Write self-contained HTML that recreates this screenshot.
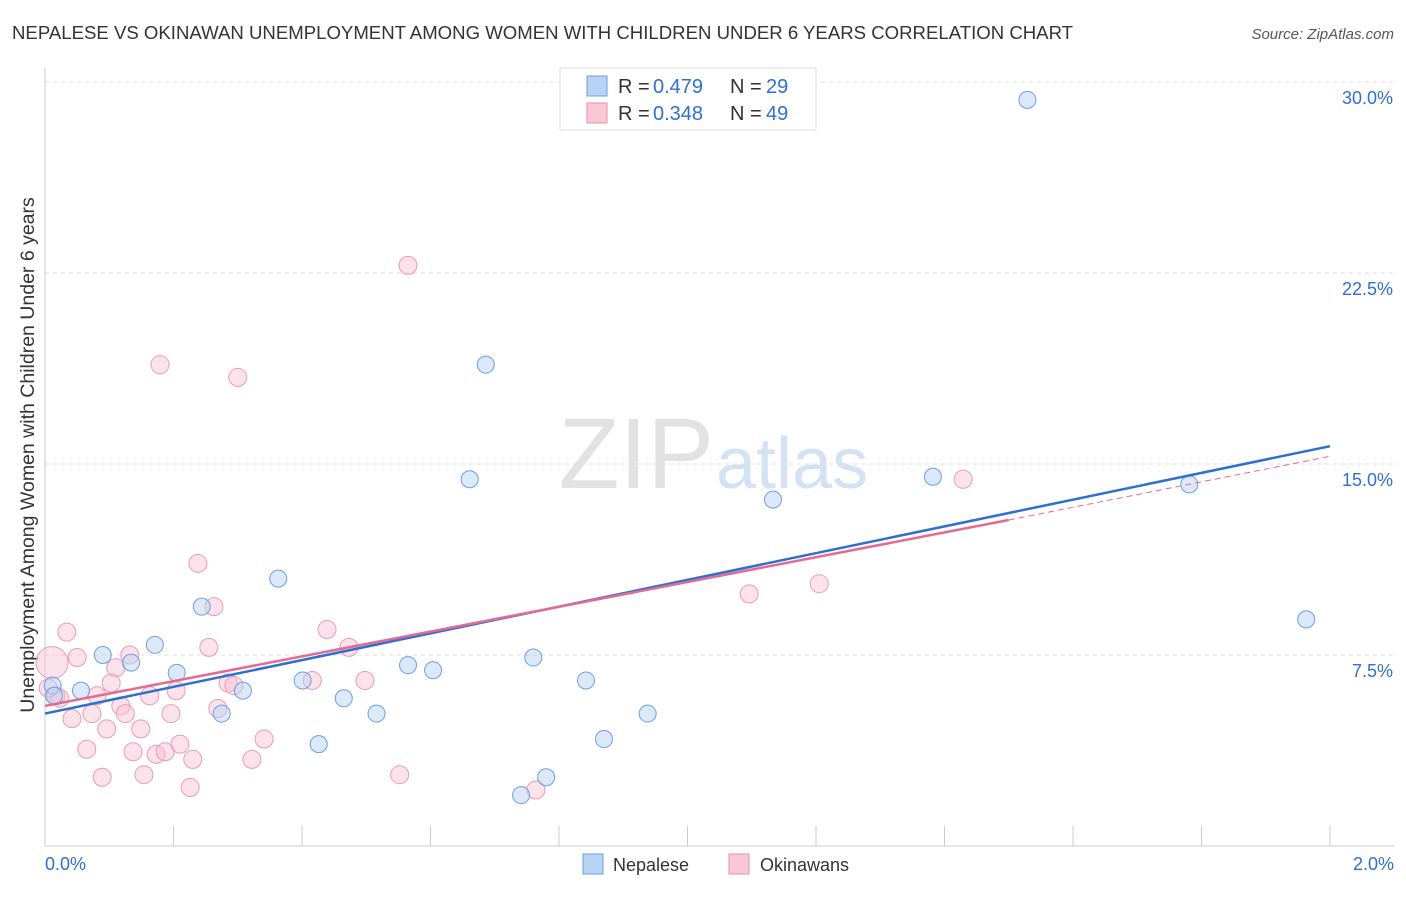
<!DOCTYPE html>
<html><head><meta charset="utf-8">
<style>
body{margin:0;background:#fff;font-family:"Liberation Sans",sans-serif;}
svg text{font-family:"Liberation Sans",sans-serif;}
</style></head>
<body>
<svg id="chart" width="1406" height="892">
<text x="12" y="39" font-size="18.6" fill="#333">NEPALESE VS OKINAWAN UNEMPLOYMENT AMONG WOMEN WITH CHILDREN UNDER 6 YEARS CORRELATION CHART</text>
<text x="1394" y="39" font-size="15" fill="#555" font-style="italic" text-anchor="end">Source: ZipAtlas.com</text>
<text x="714" y="488" font-size="100" fill="#e2e2e2" text-anchor="end" font-family="Liberation Serif">ZIP</text>
<text x="716" y="488" font-size="72" fill="#d3e3f4">atlas</text>
<text transform="translate(34,455) rotate(-90)" font-size="19.5" fill="#333" text-anchor="middle">Unemployment Among Women with Children Under 6 years</text>
<g id="grid"></g><g id="axes"></g><g id="marks"></g>
<g>
<rect x="560" y="68" width="256" height="62" fill="#fff" stroke="#ddd"/>
<rect x="587" y="76" width="20" height="20" fill="#b9d3f5" stroke="#6d9fe0"/>
<rect x="587" y="103" width="20" height="20" fill="#f9c8d7" stroke="#ea8eac"/>
<text x="618" y="93" font-size="20" fill="#333">R =</text>
<text x="653" y="93" font-size="20" fill="#2f6fd0">0.479</text>
<text x="730" y="93" font-size="20" fill="#333">N =</text>
<text x="766" y="93" font-size="20" fill="#2f6fd0">29</text>
<text x="618" y="120" font-size="20" fill="#333">R =</text>
<text x="653" y="120" font-size="20" fill="#2f6fd0">0.348</text>
<text x="730" y="120" font-size="20" fill="#333">N =</text>
<text x="766" y="120" font-size="20" fill="#2f6fd0">49</text>
</g>
<g>
<rect x="583" y="854" width="20" height="20" fill="#b9d3f5" stroke="#6d9fe0"/>
<text x="613" y="871" font-size="18" fill="#333">Nepalese</text>
<rect x="729" y="854" width="20" height="20" fill="#f9c8d7" stroke="#ea8eac"/>
<text x="760" y="871" font-size="18" fill="#333">Okinawans</text>
</g>
</svg>
<script>
const yTicks=[7.5,15,22.5,30];
const yTickLabels=["7.5%","15.0%","22.5%","30.0%"];
const xTickLabels=["0.0%","2.0%"];
const nepX=[1.529,0.686,0.661,1.382,1.133,1.781,1.963,0.363,0.244,0.171,0.090,0.134,0.205,0.012,0.056,0.014,0.308,0.401,0.275,0.465,0.516,0.565,0.604,0.760,0.842,0.938,0.870,0.426,0.780,0.741];
const nepY=[29.3,18.9,14.4,14.5,13.6,14.2,8.9,10.5,9.4,7.9,7.5,7.2,6.8,6.3,6.1,5.9,6.1,6.5,5.2,5.8,5.2,7.1,6.9,7.4,6.5,5.2,4.2,4.0,2.7,2.0];
const okiX=[0.565,0.179,0.300,1.429,0.238,0.263,0.034,1.205,1.096,0.439,0.255,0.473,0.050,0.132,0.110,0.011,0.103,0.204,0.163,0.081,0.017,0.285,0.294,0.416,0.498,0.042,0.073,0.118,0.125,0.196,0.269,0.096,0.149,0.065,0.137,0.173,0.187,0.210,0.230,0.341,0.322,0.089,0.154,0.226,0.552,0.764,0.023,0.005];
const okiY=[22.8,18.9,18.4,14.4,11.1,9.4,8.4,10.3,9.9,8.5,7.8,7.8,7.4,7.5,7.0,7.2,6.4,6.1,5.9,5.9,5.9,6.4,6.3,6.5,6.5,5.0,5.2,5.5,5.2,5.2,5.4,4.6,4.6,3.8,3.7,3.6,3.7,4.0,3.4,4.2,3.4,2.7,2.8,2.3,2.8,2.2,5.8,6.2];
const okiSize=[9,9,9,9,9,9,9,9,9,9,9,9,9,9,9,16,9,9,9,9,9,9,9,9,9,9,9,9,9,9,9,9,9,9,9,9,9,9,9,9,9,9,9,9,9,9,9,9];
const nepTrend=[[0,5.2],[2.0,15.7]];
const okiTrend=[[0,5.5],[1.5,12.8],[2.0,15.3]];
const X0=45,X1=1330,Y0=846,YPER=191/7.5;
const sx=v=>X0+(v/2.0)*(X1-X0);
const sy=v=>Y0-v*YPER;
const NS="http://www.w3.org/2000/svg";
function mk(tag,attrs,parent){const e=document.createElementNS(NS,tag);for(const k in attrs)e.setAttribute(k,attrs[k]);document.getElementById(parent).appendChild(e);return e;}
yTicks.forEach((t,i)=>{
 const g=mk('line',{x1:45,x2:1394,y1:sy(t),y2:sy(t),stroke:'#ddd','stroke-dasharray':'4,4'},'grid');
 
 
 const l=mk('text',{x:1393,y:sy(t)+22,'font-size':18,fill:'#2f6fd0','text-anchor':'end'},'axes');
 l.textContent=yTickLabels[i];
 
 
});
mk('line',{x1:45,x2:45,y1:68,y2:846,stroke:'#ccc'},'axes');
mk('line',{x1:45,x2:1394,y1:846,y2:846,stroke:'#ccc'},'axes');
for(let i=0;i<=10;i++){const x=sx(i*0.2);mk('line',{x1:x,x2:x,y1:826,y2:846,stroke:'#ccc'},'axes');}
const xl0=mk('text',{x:45,y:870,'font-size':18,fill:'#2f6fd0'},'axes');xl0.textContent=xTickLabels[0];


const xl1=mk('text',{x:1394,y:870,'font-size':18,fill:'#2f6fd0','text-anchor':'end'},'axes');xl1.textContent=xTickLabels[1];


okiX.forEach((v,i)=>{
 const c=mk('circle',{cx:sx(v),cy:sy(okiY[i]),r:okiSize[i],fill:'rgba(249,190,208,0.45)',stroke:'#ec9ab5','stroke-width':1},'marks');
 
 
});
nepX.forEach((v,i)=>{
 const c=mk('circle',{cx:sx(v),cy:sy(nepY[i]),r:8.5,fill:'rgba(185,211,245,0.5)',stroke:'#6d9fe0','stroke-width':1},'marks');
 
 
});
const nl=mk('line',{x1:sx(nepTrend[0][0]),y1:sy(nepTrend[0][1]),x2:sx(nepTrend[1][0]),y2:sy(nepTrend[1][1]),stroke:'#2f6fd0','stroke-width':2.5},'marks');


const ol=mk('line',{x1:sx(okiTrend[0][0]),y1:sy(okiTrend[0][1]),x2:sx(okiTrend[1][0]),y2:sy(okiTrend[1][1]),stroke:'#e46a92','stroke-width':2.5},'marks');


const od=mk('line',{x1:sx(okiTrend[1][0]),y1:sy(okiTrend[1][1]),x2:sx(okiTrend[2][0]),y2:sy(okiTrend[2][1]),stroke:'#e46a92','stroke-width':1,'stroke-dasharray':'6,4'},'marks');


</script>
</body></html>
